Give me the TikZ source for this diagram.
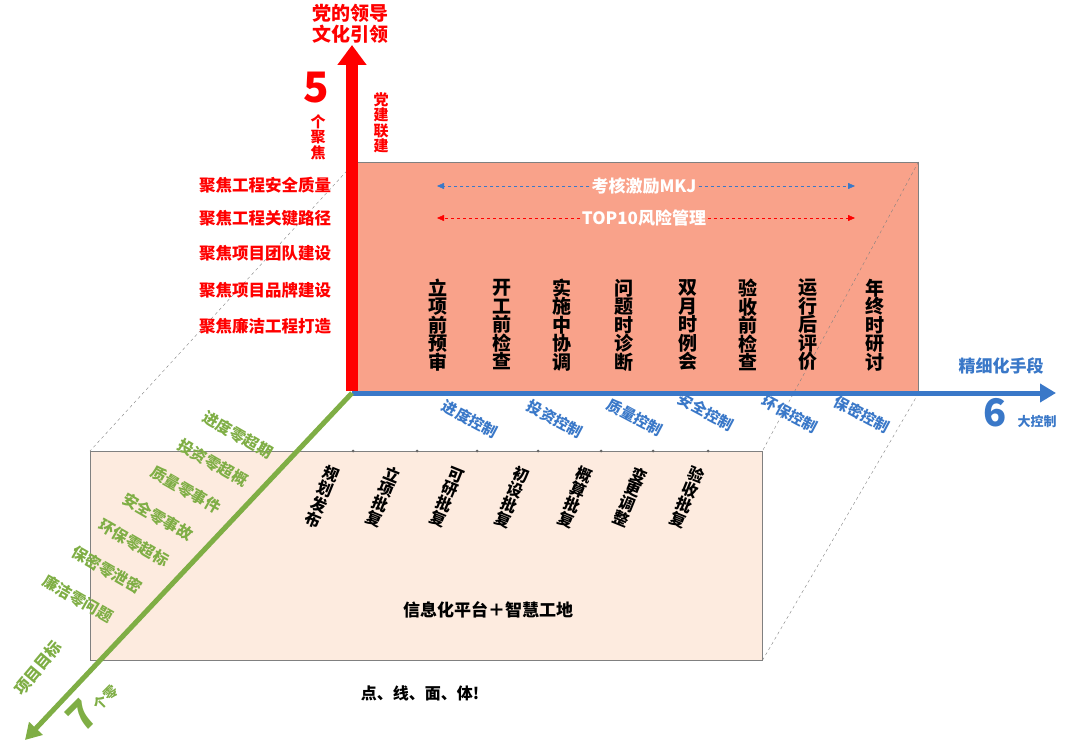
\documentclass[tikz,border=0pt]{standalone}
\usepackage{fontspec}
\setmainfont{Noto Sans CJK SC Black}
\usetikzlibrary{arrows.meta}
\definecolor{salmon}{HTML}{F9A28A}
\definecolor{beige}{HTML}{FDEBDF}
\definecolor{gr}{HTML}{7FAE45}
\definecolor{bl}{HTML}{3A78C8}
\definecolor{rd}{HTML}{FF0000}
\tikzset{
  col/.style={font=\fontsize{19}{18.5}\selectfont, align=center, inner sep=0pt},
  scol/.style={font=\fontsize{16}{15}\selectfont, align=center, inner sep=0pt, rotate=-22},
  grl/.style={font=\fontsize{15.5}{16}\selectfont, text=gr, rotate=-30, inner sep=0pt},
  bll/.style={font=\fontsize{15}{16}\selectfont, text=bl, rotate=-28, inner sep=0pt},
  rdl/.style={font=\fontsize{16.5}{16}\selectfont, text=rd, inner sep=0pt},
  dsh/.style={dashed, gray, thin},
  dot/.style={circle, fill=gray!80!black, inner sep=0pt, minimum size=3pt}
}
\begin{document}
\begin{tikzpicture}[x=1pt,y=-1pt]
\useasboundingbox (0,0) rectangle (1080,752);
% boxes
\node[draw=gray, fill=beige, minimum width=672, minimum height=209, inner sep=0, anchor=north west] (bg) at (90,451) {};
\node[draw=gray, fill=salmon, minimum width=563, minimum height=231, inner sep=0, anchor=north west] (rr) at (355,162) {};
% dashed
\draw[dsh] (rr.north west) -- (bg.north west);
\draw[dsh] (rr.north east) -- (bg.north east);
\draw[dsh] (rr.south east) -- (bg.south east);
% dots
\foreach \x [count=\i] in {353,417,477,538,601,653,708} \node[dot] (d\i) at (\x,451) {};
% axes
\coordinate (O) at (352,393);
\coordinate (up) at (352,45);
\coordinate (rt) at (1056,393);
\coordinate (dl) at (25,740);
\draw[bl, line width=5pt, -{Triangle[length=16pt,width=18pt]}] (O) -- (rt);
\draw[gr, line width=5pt, -{Triangle[length=16pt,width=18pt]}] (O) -- (dl);
\draw[rd, line width=12pt, -{Triangle[length=20pt,width=28pt]}] ([yshift=2]O) -- (up);
% top labels
\node[font=\fontsize{19}{21}\selectfont, text=rd, align=center] (t1) at (350,24) {党的领导\\文化引领};
\node[font=\fontsize{42}{42}\selectfont, text=rd, inner sep=0] (n5) at (316,88) {5};
\node[font=\fontsize{15}{15.5}\selectfont, text=rd, align=center, inner sep=0] (gjj) at (318,137) {个\\聚\\焦};
\node[font=\fontsize{15}{15.5}\selectfont, text=rd, align=center, inner sep=0] (djl) at (381,123) {党\\建\\联\\建};
\foreach \t/\y [count=\i] in {聚焦工程安全质量/185,聚焦工程关键路径/218,聚焦项目团队建设/253,聚焦项目品牌建设/290,聚焦廉洁工程打造/326}
  \node[rdl] (r\i) at (265,\y) {\t};
% red box arrows
\node[font=\fontsize{17}{18}\selectfont, text=white, fill=salmon, inner sep=2pt] (mkj) at (644,186) {考核激励MKJ};
\node[font=\fontsize{17}{18}\selectfont, text=white, fill=salmon, inner sep=2pt] (top) at (644,218) {TOP10风险管理};
\coordinate (a1l) at (437,186); \coordinate (a1r) at (855,186);
\coordinate (a2l) at (437,218); \coordinate (a2r) at (855,218);
\draw[bl, dashed, -{Triangle[length=7pt,width=6pt]}] (mkj.west) -- (a1l);
\draw[bl, dashed, -{Triangle[length=7pt,width=6pt]}] (mkj.east) -- (a1r);
\draw[rd, dashed, -{Triangle[length=7pt,width=6pt]}] (top.west) -- (a2l);
\draw[rd, dashed, -{Triangle[length=7pt,width=6pt]}] (top.east) -- (a2r);
\foreach \t/\x [count=\i] in {立\\项\\前\\预\\审/438,开\\工\\前\\检\\查/502,实\\施\\中\\协\\调/562,问\\题\\时\\诊\\断/624,双\\月\\时\\例\\会/688,验\\收\\前\\检\\查/748,运\\行\\后\\评\\价/808,年\\终\\时\\研\\讨/875}
  \node[col] (c\i) at (\x,325) {\t};
% blue labels
\foreach \t/\x/\y [count=\i] in {进度控制/470/419,投资控制/555/419,质量控制/635/417,安全控制/706/412,环保控制/790/414,保密控制/862/414}
  \node[bll] (b\i) at (\x,\y) {\t};
\node[font=\fontsize{17}{18}\selectfont, text=bl] (jx) at (1001,366) {精细化手段};
\node[font=\fontsize{38}{38}\selectfont, text=bl, inner sep=0] (n6) at (995,413) {6};
\node[font=\fontsize{13}{15}\selectfont, text=bl, inner sep=0] (dkz) at (1037,422) {大控制};
% beige columns
\foreach \t/\x [count=\i] in {规\\划\\发\\布/322,立\\项\\批\\复/383,可\\研\\批\\复/447,初\\设\\批\\复/512,概\\算\\批\\复/575,变\\更\\调\\整/630,验\\收\\批\\复/687}
  \node[scol] (s\i) at (\x,497) {\t};
\node[font=\fontsize{17}{18}\selectfont] (xx) at (488,610) {信息化平台＋智慧工地};
\node[font=\fontsize{16}{18}\selectfont] (dx) at (420,693) {点、线、面、体!};
% green labels
\foreach \t/\x/\y [count=\i] in {进度零超期/238/435,投资零超概/213/463,质量零事件/186/490,安全零事故/158/517,环保零超标/134/543,保密零泄密/107/570,廉洁零问题/78/599}
  \node[grl] (g\i) at (\x,\y) {\t};
\node[font=\fontsize{16}{17}\selectfont, text=gr, rotate=50] (xm) at (38,668) {项目目标};
\node[font=\fontsize{40}{40}\selectfont, text=gr, rotate=45, inner sep=0] (n7) at (82,716) {7};
\node[font=\fontsize{14}{15}\selectfont, text=gr, rotate=45, inner sep=0] (gl) at (106,698) {个零};
\end{tikzpicture}
\end{document}
